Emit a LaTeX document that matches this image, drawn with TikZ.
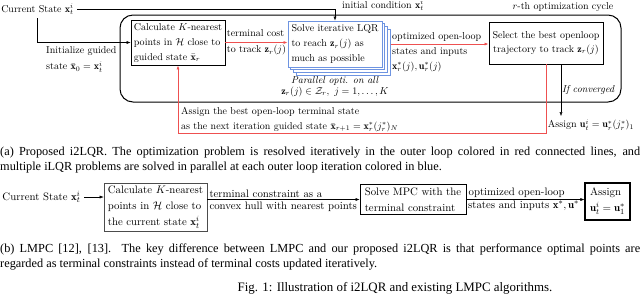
\documentclass[tikz,border=0pt]{standalone}
\usepackage{amsmath,amssymb}
\usepackage{fontspec}
\newfontfamily\capfont{Liberation Serif}
\usepackage{xcolor}
\usepackage{tikz}
\usetikzlibrary{arrows.meta,positioning,calc}

\definecolor{loopred}{RGB}{238,80,80}
\definecolor{parblue}{RGB}{110,148,225}

\begin{document}
\begin{tikzpicture}[
  x=1pt, y=-1pt,
  every node/.style={font=\fontsize{10}{15}\selectfont},
  procbox/.style={draw, line width=0.8pt, align=left, inner sep=2.5pt},
  stackbox/.style={draw=parblue, line width=0.9pt, fill=white, align=left,
                   minimum width=94pt, minimum height=46pt, inner sep=3pt},
  fbline/.style={draw=loopred, line width=0.7pt},
  lmpc/.style={font=\fontsize{10.8}{16}\selectfont},
  caption/.style={anchor=north west, inner sep=0pt, text width=640pt, align=justify,
                  font=\capfont\fontsize{12.3}{15.5}\selectfont},
  >={Latex[length=4pt,width=3pt]}
]
\useasboundingbox (0,0) rectangle (640,293);
\clip (0,0) rectangle (640,293);

% (a) i2LQR
\draw[line width=1pt, rounded corners=13pt] (120,15) rectangle (621,102);
\node (cyclelbl) at (563,7) {$r$-th optimization cycle};

\node (cur) at (37.5,9.5) {Current State $\mathbf{x}_t^i$};
\node[procbox, minimum width=94pt, minimum height=45pt] (calc) at (178,42.5)
  {Calculate $K$-nearest\\points in $\mathcal{H}$ close to\\guided state $\bar{\mathbf{x}}_r$};

\foreach \k in {3,2,1}
  \node[stackbox] at (335+2.7*\k, 44+2.7*\k) {};
\node[stackbox] (solve) at (335,44)
  {Solve iterative LQR\\to reach $\mathbf{z}_r(j)$ as\\much as possible};
\node[align=center, font=\fontsize{10}{11}\selectfont] (parlbl) at (335,86.5)
  {\textit{Parallel opti. on all}\\$\mathbf{z}_r(j)\in\mathcal{Z}_r,\ j=1,\ldots,K$};

\node[procbox, align=center, minimum width=114pt, minimum height=42pt,
      font=\fontsize{10}{14}\selectfont] (sel) at (546,43)
  {Select the best openloop\\trajectory to track $\mathbf{z}_r(j)$};
\node (asg1) at (591,125) {Assign $\mathbf{u}_t^i=\mathbf{u}_r^*(j_r^*)_1$};

\draw[->] (cur.south) |- (calc.west);
\node[anchor=north west, align=left, inner sep=0pt, font=\fontsize{10}{16}\selectfont]
  (initlbl) at (46,46.5) {Initialize guided\\state $\bar{\mathbf{x}}_0=\mathbf{x}_t^i$};
\draw[->] (cur.east) -| (solve.north);
\node[anchor=west, inner sep=0pt] (initcond) at (342,5.5) {initial condition $\mathbf{x}_t^i$};

\draw[fbline, ->] (calc.east) -- node[align=left, font=\fontsize{10}{16}\selectfont]
  {terminal cost\\to track $\mathbf{z}_r(j)$} (calc.east -| solve.west);
\draw[fbline, ->] ([xshift=8.1pt]solve.east) -- (sel.west |- solve.east);
\node[anchor=west, align=left, inner sep=0pt] (optlbl) at (392,52)
  {optimized open-loop\\states and inputs\\$\mathbf{x}_r^*(j),\mathbf{u}_r^*(j)$};

\draw[fbline, ->] (sel.south) -- ++(0,69) -| (calc.south);
\node[anchor=west, align=left, inner sep=0pt] (nextlbl) at (181,119.5)
  {Assign the best open-loop terminal state\\as the next iteration guided state
   $\bar{\mathbf{x}}_{r+1}=\mathbf{x}_r^*(j_r^*)_N$};

\coordinate (convtop) at ([xshift=15pt]sel.south);
\draw[->] (convtop) -- node[right, inner sep=1pt, font=\fontsize{10}{12}\itshape]
  {If converged} (convtop |- asg1.north);

\node[caption] (capa) at (0,146.5)
  {(a) Proposed i2LQR. The optimization problem is resolved iteratively in the outer
   loop colored in red connected lines, and\linebreak multiple iLQR problems are
   solved in parallel at each outer loop iteration colored in blue.};

% (b) LMPC
\node[lmpc] (cur2) at (41.5,197) {Current State $\mathbf{x}_t^i$};
\node[procbox, lmpc, draw=black!70, line width=0.6pt, minimum width=103pt,
      minimum height=48pt] (calc2) at (155.5,207)
  {Calculate $K$-nearest\\points in $\mathcal{H}$ close to\\the current state $\mathbf{x}_t^i$};
\node[procbox, lmpc, minimum width=106pt, minimum height=30pt] (mpc) at (413,199.5)
  {Solve MPC with the\\terminal constraint};
\node[procbox, lmpc, line width=1.1pt, minimum width=45pt, minimum height=37pt]
  (asg2) at (607.5,201.5) {Assign\\$\mathbf{u}_t^i=\mathbf{u}_1^*$};

\draw[->] (cur2.east) -- (cur2.east -| calc2.west);
\draw[->] (mpc.west -| calc2.east) --
  node[pos=0, anchor=south west, lmpc, inner sep=2pt] {terminal constraint as a}
  node[pos=0, anchor=north west, lmpc, inner sep=2pt] {convex hull with nearest points}
  (mpc.west);
\draw[->] (mpc.east) --
  node[pos=0, anchor=south west, lmpc, inner sep=2pt] {optimized open-loop}
  node[pos=0, anchor=north west, lmpc, inner sep=1.5pt] {states and inputs $\mathbf{x}^*,\mathbf{u}^*$}
  (mpc.east -| asg2.west);

\node[caption] (capb) at (0,243.5)
  {(b) LMPC [12], [13]. The key difference between LMPC and our proposed i2LQR is
   that performance optimal points are\linebreak regarded as terminal constraints
   instead of terminal costs updated iteratively.};
\node[anchor=base, inner sep=0pt, font=\capfont\fontsize{12.9}{15.5}\selectfont]
  (figcap) at (395,291) {Fig. 1: Illustration of i2LQR and existing LMPC algorithms.};
\end{tikzpicture}
\end{document}
